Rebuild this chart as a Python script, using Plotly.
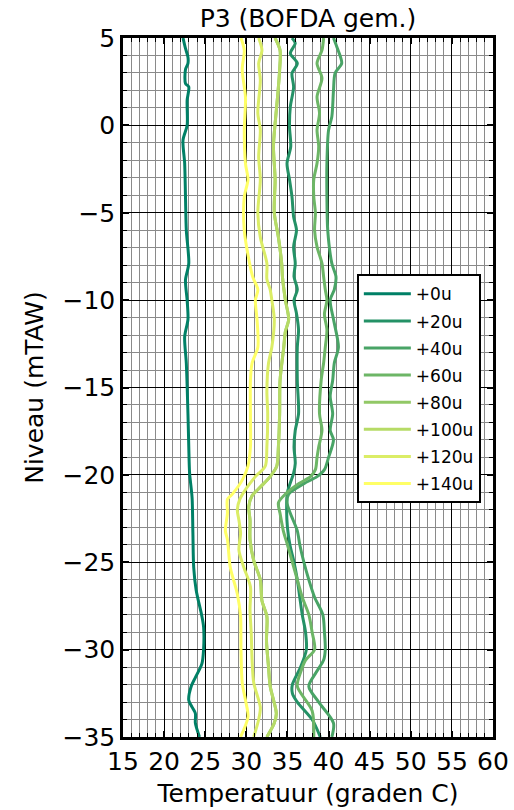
import plotly.graph_objects as go

series_names = ["+0u", "+20u", "+40u", "+60u", "+80u", "+100u", "+120u", "+140u"]
series_colors = ["#008066", "#249166", "#49a466", "#6db666", "#92c866", "#b6db66", "#dbed66", "#ffff66"]

lvl_0 = [5, 4.4, 3.9, 3.55, 3.2, 2.4, 2.2, 1.45, 1.07, 0, -0.84, -2.17, -4.08, -6.0, -7.9, -8.85, -10, -11.1,
         -12.1, -13.6, -16.5, -18.4, -19.9, -21.3, -23.3, -25.3, -26.6, -28.1, -28.7, -30.0, -30.8, -31.6,
         -32.1, -32.9, -33.65, -34.2, -35]
tmp_0 = [22.3, 22.6, 22.9, 22.9, 22.6, 22.6, 23.0, 22.8, 22.8, 22.8, 22.3, 22.5, 22.6, 22.7, 23.0, 22.6, 22.8, 22.9,
         22.5, 22.7, 22.9, 23.0, 23.1, 23.4, 23.5, 23.6, 23.9, 24.6, 24.8, 24.8, 24.6, 23.8,
         23.3, 23.0, 23.8, 23.8, 24.3]

lvl_20 = [5, 4.7, 4.12, 3.55, 2.98, 2.2, 1.07, -0.08, -1.22, -2.17, -3.1, -4.08, -5.23, -6.0, -6.95, -7.9, -8.66,
          -9.4, -10, -10.76, -11.7, -12.7, -14.6, -16.5, -17.45, -18.4, -19.35, -19.9, -21, -22, -23, -24, -25,
          -26, -27, -28, -29, -30, -31, -32, -32.5, -33, -34, -35]
tmp_20 = [35.55, 35.95, 35.35, 36.2, 35.55, 35.75, 35.35, 35.25, 35.4, 34.95, 35.25, 35.55, 35.75, 36.1, 35.75, 35.95,
          35.8, 36.2, 35.8, 36.1, 36.35, 36.2, 36.2, 36.35, 35.95, 35.8, 35.95, 35.75, 35.0, 34.9, 35.0, 35.3, 35.8,
          36.2, 36.5, 36.8, 37.2, 37.3, 36.6, 35.6, 35.6, 36.2, 38.0, 39.0]

lvl_40 = [5, 4.5, 3.55, 3.0, 2.0, 0.5, -0.27, -2.17, -4.08, -6.0, -7.9, -8.66, -9.4, -10, -11.1, -12.7, -13.6,
          -14.6, -15.5, -16.5, -17.45, -18.0, -19.0, -19.7, -20.1, -20.5, -21.1, -21.6, -22.2, -23.2, -24, -25,
          -26, -27, -28, -29, -30, -30.6, -31.3, -32.1, -33, -34.2, -35]
tmp_40 = [40.6, 41.0, 41.6, 40.8, 40.6, 40.4, 40.0, 39.8, 39.8, 39.9, 40.4, 40.9, 40.7, 40.2, 40.6, 41.2, 40.7,
          40.5, 40.2, 40.5, 40.2, 40.6, 40.0, 39.5, 38.6, 37.0, 35.15, 34.95, 35.35, 36.2, 36.5, 37.0,
          37.6, 38.3, 39.3, 39.5, 39.6, 39.4, 38.5, 37.6, 38.8, 40.6, 40.4]

lvl_60 = [5, 4.3, 3.55, 2.7, 1.64, 0.7, -0.27, -1.2, -2.17, -3.1, -4.08, -5.0, -6.0, -6.95, -7.9, -8.66, -9.4,
          -10, -10.8, -11.7, -12.7, -13.6, -14.6, -16.5, -17.45, -18.4, -19.0, -19.7, -20.1, -20.5, -21.1, -21.6,
          -22.2, -23.2, -24, -25, -26, -27, -28, -29, -30, -30.6, -31.3, -32.1, -33.5, -35]
tmp_60 = [39.4, 39.2, 38.6, 39.2, 38.6, 38.9, 38.6, 38.8, 38.6, 38.2, 38.2, 38.4, 38.3, 38.6, 39.2, 39.4, 39.6,
          39.8, 39.5, 39.8, 39.6, 39.4, 39.1, 38.9, 39.2, 38.8, 38.6, 38.4, 37.8, 36.4, 34.75, 33.9,
          34.1, 34.5, 35.0, 35.6, 36.2, 36.8, 37.6, 38.0, 38.3, 37.2, 36.6, 36.2, 38.0, 38.2]

# +80u is not visible as a separate curve in the picture: it lies under the +100u curve
lvl_80 = [5, 4.3, 3.17, 1.64, 0.12, -1.22, -3.1, -5.0, -6.4, -7.9, -8.7, -10, -11.1, -11.8, -12.7, -14.6, -16.5,
          -18.4, -19.5, -20.1, -20.7, -21.2, -21.8, -22.6, -23.7, -24.9, -26, -27.2, -28.1, -29.5, -31.0, -32.1,
          -33.65, -34.2, -35]
tmp_80 = [33.5, 34.1, 34.05, 33.8, 33.5, 33.3, 33.5, 33.4, 33.9, 34.3, 34.4, 34.75, 35.15, 34.75, 34.55, 34.1, 34.05,
          33.9, 33.7, 32.9, 31.7, 30.7, 30.3, 30.45, 30.45, 30.9, 31.7, 31.9, 32.5, 32.45, 32.7, 32.9,
          33.65, 33.4, 32.5]

lvl_100 = [5, 4.3, 3.17, 1.64, 0.12, -1.22, -3.1, -5.0, -6.4, -7.9, -8.7, -10, -11.1, -11.8, -12.7, -14.6, -16.5,
           -18.4, -19.5, -20.1, -20.7, -21.2, -21.8, -22.6, -23.7, -24.9, -26, -27.2, -28.1, -29.5, -31.0, -32.1,
           -33.65, -34.2, -35]
tmp_100 = [33.5, 34.1, 34.05, 33.8, 33.5, 33.3, 33.5, 33.4, 33.9, 34.3, 34.4, 34.75, 35.15, 34.75, 34.55, 34.1, 34.05,
           33.9, 33.7, 32.9, 31.7, 30.7, 30.3, 30.45, 30.45, 30.9, 31.7, 31.9, 32.5, 32.45, 32.7, 32.9,
           33.65, 33.4, 32.5]

lvl_120 = [5, 4.3, 3.55, 2.6, 0.7, -0.27, -1.8, -3.1, -5.0, -6.4, -7.9, -8.8, -9.4, -10, -11.1, -12.7, -13.6,
           -15.2, -16.5, -18.4, -19.5, -20.1, -20.7, -21.4, -22.0, -22.6, -23.35, -24.3, -25.3, -26.4, -27.7,
           -29.1, -30.6, -31.9, -33.3, -34.0, -35]
tmp_120 = [31.5, 31.9, 31.5, 31.7, 31.4, 31.7, 31.5, 31.7, 31.4, 31.7, 32.5, 32.5, 32.9, 33.1, 33.4, 33.1, 32.7,
           32.5, 32.6, 32.5, 32.3, 31.1, 30.1, 29.2, 28.9, 29.1, 29.3, 29.1, 29.7, 30.5, 30.45,
           30.6, 30.7, 30.9, 31.7, 31.5, 30.9]

lvl_140 = [5, 4.3, 3.2, 1.6, -0.3, -2.2, -3.1, -4.1, -6.0, -7.9, -8.7, -9.4, -10, -11.1, -12.7, -13.6, -14.6,
           -16.5, -18.4, -19.5, -20.3, -21.1, -21.4, -22.2, -23.2, -23.7, -25.3, -26.8, -28.1, -30, -31.9, -32.9,
           -33.85, -35]
tmp_140 = [29.35, 29.75, 29.5, 29.9, 29.75, 29.9, 30.2, 29.75, 29.75, 30.4, 30.8, 31.4, 31.1, 31.3, 31.4, 30.7, 30.5,
           30.5, 30.5, 30.2, 29.5, 28.3, 27.7, 27.7, 27.45, 27.7, 28.05, 28.9, 29.3, 29.35, 29.5, 29.9,
           30.2, 29.3]

levels = [lvl_0, lvl_20, lvl_40, lvl_60, lvl_80, lvl_100, lvl_120, lvl_140]
temps = [tmp_0, tmp_20, tmp_40, tmp_60, tmp_80, tmp_100, tmp_120, tmp_140]

fig = go.Figure()
for name, col, lv, tp in zip(series_names, series_colors, levels, temps):
    fig.add_trace(go.Scatter(x=tp, y=lv, mode="lines", name=name, legendgroup=name,
                             line=dict(color=col, width=3, shape="spline", smoothing=0.8)))

axis_common = dict(
    tickmode="linear", dtick=5,
    showgrid=True, gridcolor="#000000", gridwidth=1,
    ticks="inside", ticklen=6, tickwidth=1.5, tickcolor="black",
    showline=True, linewidth=2.5, linecolor="black", mirror="allticks",
    zeroline=False,
    minor=dict(dtick=1, showgrid=True, gridcolor="#8a8a8a", gridwidth=1, ticks="inside", ticklen=4,
               tickcolor="black", tickwidth=1),
    tickfont=dict(size=25, color="black"),
)

fig.update_xaxes(range=[15, 60], tick0=15,
                 title=dict(text="Temperatuur (graden C)", font=dict(size=25), standoff=10),
                 **axis_common)
fig.update_yaxes(range=[-35, 5], tick0=0,
                 title=dict(text="Niveau (mTAW)", font=dict(size=25), standoff=12),
                 **axis_common)

fig.update_layout(
    width=514, height=810,
    margin=dict(l=123, r=21, t=38, b=73, autoexpand=False),
    plot_bgcolor="white", paper_bgcolor="white",
    font=dict(family="DejaVu Sans", size=25, color="black"),
    title=dict(text="P3 (BOFDA gem.)", x=0.5, xref="paper", xanchor="center",
               y=1 - 18 / 810, yref="container", yanchor="middle", font=dict(size=25)),
    legend=dict(x=0.632, y=0.662, xanchor="left", yanchor="top", bgcolor="white",
                bordercolor="black", borderwidth=2, font=dict(size=17),
                traceorder="grouped", tracegroupgap=2, itemwidth=47),
    showlegend=True,
)

fig.write_html("out.html")
